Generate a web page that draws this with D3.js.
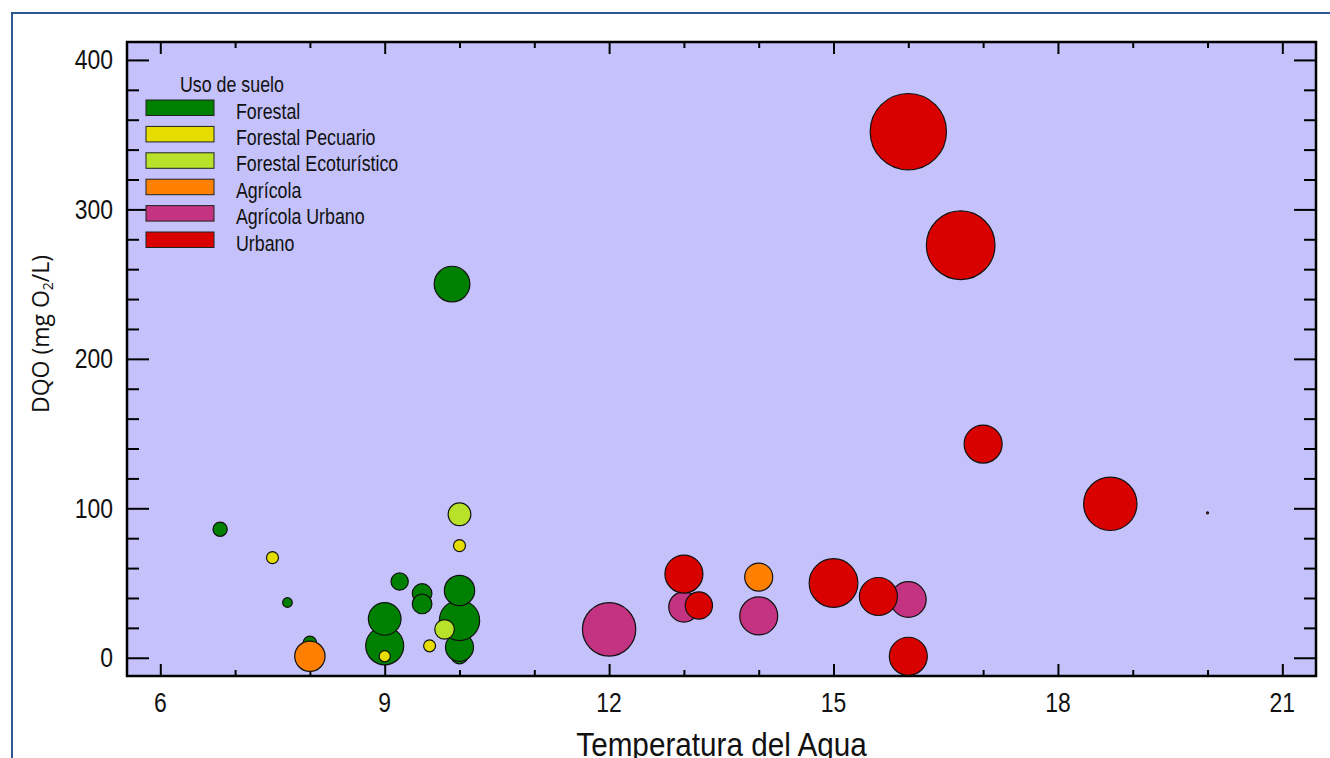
<!DOCTYPE html>
<html>
<head>
<meta charset="utf-8">
<script src="https://cdn.jsdelivr.net/npm/d3@7"></script>
<style>
  body { margin: 0; background: #ffffff; }
  svg { display: block; }
</style>
</head>
<body>
<svg id="chart" width="1330" height="758"></svg>
<script>
// Land-use categories and their colours
const categorias = ["Forestal", "Forestal Pecuario", "Forestal Ecoturístico", "Agrícola", "Agrícola Urbano", "Urbano"];
const colores = ["#008000", "#E5DC00", "#B8E22A", "#FF8000", "#C43381", "#D90000"];

// One entry per sampling point: land-use index, water temperature (°C), COD (mg O2/L), bubble magnitude
const uso         = [0, 0, 0, 0, 0, 0, 0, 0, 0, 0, 0, 0, 0,
                     1, 1, 1, 1,
                     2, 2,
                     3, 3,
                     4, 4, 4, 4,
                     5, 5, 5, 5, 5, 5, 5, 5, 5, 5];
const temperatura = [6.8, 7.7, 8.0, 9.0, 9.0, 9.2, 9.5, 9.5, 9.9, 10.0, 10.0, 10.0, 10.0,
                     7.5, 9.0, 9.6, 10.0,
                     9.8, 10.0,
                     8.0, 14.0,
                     12.0, 13.0, 14.0, 16.0,
                     13.0, 13.2, 15.0, 15.6, 16.0, 16.0, 16.7, 17.0, 18.7, 20.0];
const dqo         = [86, 37, 10, 8, 26, 51, 43, 36, 250, 2, 7, 25, 45,
                     67, 1, 8, 75,
                     19, 96,
                     1, 54,
                     19, 34, 28, 39,
                     56, 35, 50, 41, 1, 352, 276, 143, 103, 97];
const magnitud    = [16, 10, 15, 47, 40, 20, 23, 23, 44, 21, 34, 50, 37,
                     13, 12, 13, 13,
                     23, 27,
                     37, 34,
                     67, 37, 47, 44,
                     47, 33, 61, 47, 47, 97, 87, 47, 67, 0];

// Axis tick labels
const xTicks = [6, 9, 12, 15, 18, 21];
const yTicks = [0, 100, 200, 300, 400];
const xMinor = [7, 8, 10, 11, 13, 14, 16, 17, 19, 20];
const yMinor = [20, 40, 60, 80, 120, 140, 160, 180, 220, 240, 260, 280, 320, 340, 360, 380];

const svg = d3.select("#chart");
const plot = { left: 127, top: 42, right: 1316, bottom: 676 };

const x = d3.scaleLinear().domain([5.555, 21.45]).range([plot.left, plot.right]);
const y = d3.scaleLinear().domain([-12.2, 412]).range([plot.bottom, plot.top]);
const r = d3.scaleLinear().domain([0, 100]).range([1, 39.3]);

const sans = "'Liberation Sans', Arial, sans-serif";

// Condensed text: a horizontally squeezed sans-serif glyph run
function narrowText(parent, tx, ty, sx, size, anchor, str) {
  return parent.append("text")
    .attr("transform", `translate(${tx},${ty}) scale(${sx},1)`)
    .attr("text-anchor", anchor)
    .attr("font-family", sans)
    .attr("font-size", size)
    .attr("fill", "#111")
    .text(str);
}

// Outer frame
svg.append("path")
  .attr("d", "M12,758 V13 H1330")
  .attr("fill", "none")
  .attr("stroke", "#2E5792")
  .attr("stroke-width", 2);

// Plot background
svg.append("rect")
  .attr("x", plot.left).attr("y", plot.top)
  .attr("width", plot.right - plot.left).attr("height", plot.bottom - plot.top)
  .attr("fill", "#C5C2FB");

// Tick marks pointing inward on all four sides
function ticks(axisFn, values, size, transform) {
  const g = svg.append("g")
    .attr("transform", transform)
    .call(axisFn.tickValues(values).tickSizeInner(-size).tickSizeOuter(0).tickFormat(""));
  g.select(".domain").remove();
  g.selectAll(".tick line").attr("stroke", "#000").attr("stroke-width", 2);
  return g;
}
ticks(d3.axisBottom(x), xTicks, 12, `translate(0,${plot.bottom})`);
ticks(d3.axisBottom(x), xMinor, 6, `translate(0,${plot.bottom})`);
ticks(d3.axisTop(x), xTicks, 12, `translate(0,${plot.top})`);
ticks(d3.axisTop(x), xMinor, 6, `translate(0,${plot.top})`);
ticks(d3.axisLeft(y), yTicks, 22, `translate(${plot.left},0)`);
ticks(d3.axisLeft(y), yMinor, 12, `translate(${plot.left},0)`);
ticks(d3.axisRight(y), yTicks, 22, `translate(${plot.right},0)`);
ticks(d3.axisRight(y), yMinor, 12, `translate(${plot.right},0)`);

// Tick labels
const labels = svg.append("g");
xTicks.forEach(v => narrowText(labels, x(v), 712, 0.85, 27, "middle", d3.format("d")(v)));
yTicks.forEach(v => narrowText(labels, 113, y(v) + 9.5, 0.85, 27, "end", d3.format("d")(v)));

// Plot border
svg.append("rect")
  .attr("x", plot.left).attr("y", plot.top)
  .attr("width", plot.right - plot.left).attr("height", plot.bottom - plot.top)
  .attr("fill", "none").attr("stroke", "#000").attr("stroke-width", 2.5);

// Bubbles, drawn category by category
const puntos = uso.map((u, i) => ({ u, t: temperatura[i], d: dqo[i], m: magnitud[i] }));
svg.append("g")
  .selectAll("circle")
  .data(puntos)
  .join("circle")
  .attr("cx", p => x(p.t))
  .attr("cy", p => y(p.d))
  .attr("r", p => r(p.m))
  .attr("fill", p => colores[p.u])
  .attr("stroke", "#111")
  .attr("stroke-width", 1.2);

// Legend
const leg = svg.append("g");
narrowText(leg, 180, 92, 0.81, 22, "start", "Uso de suelo");
categorias.forEach((c, i) => {
  const top = 100 + i * 26.4;
  leg.append("rect")
    .attr("x", 146).attr("y", top).attr("width", 68).attr("height", 15.5)
    .attr("fill", colores[i]).attr("stroke", "#222").attr("stroke-width", 1);
  narrowText(leg, 236, top + 18.5, 0.81, 22, "start", c);
});

// Axis titles
narrowText(svg, (plot.left + plot.right) / 2, 756, 0.9, 33, "middle", "Temperatura del Agua");

const yt = svg.append("text")
  .attr("transform", "translate(49,334) rotate(-90)")
  .attr("text-anchor", "middle")
  .attr("font-family", "'Open Sans', 'Noto Sans', sans-serif")
  .attr("font-size", 23).attr("fill", "#111");
yt.append("tspan").text("DQO (mg O");
yt.append("tspan").attr("font-size", 14).attr("dy", 4).text("2");
yt.append("tspan").attr("dy", -4).text("/L)");
</script>
</body>
</html>
